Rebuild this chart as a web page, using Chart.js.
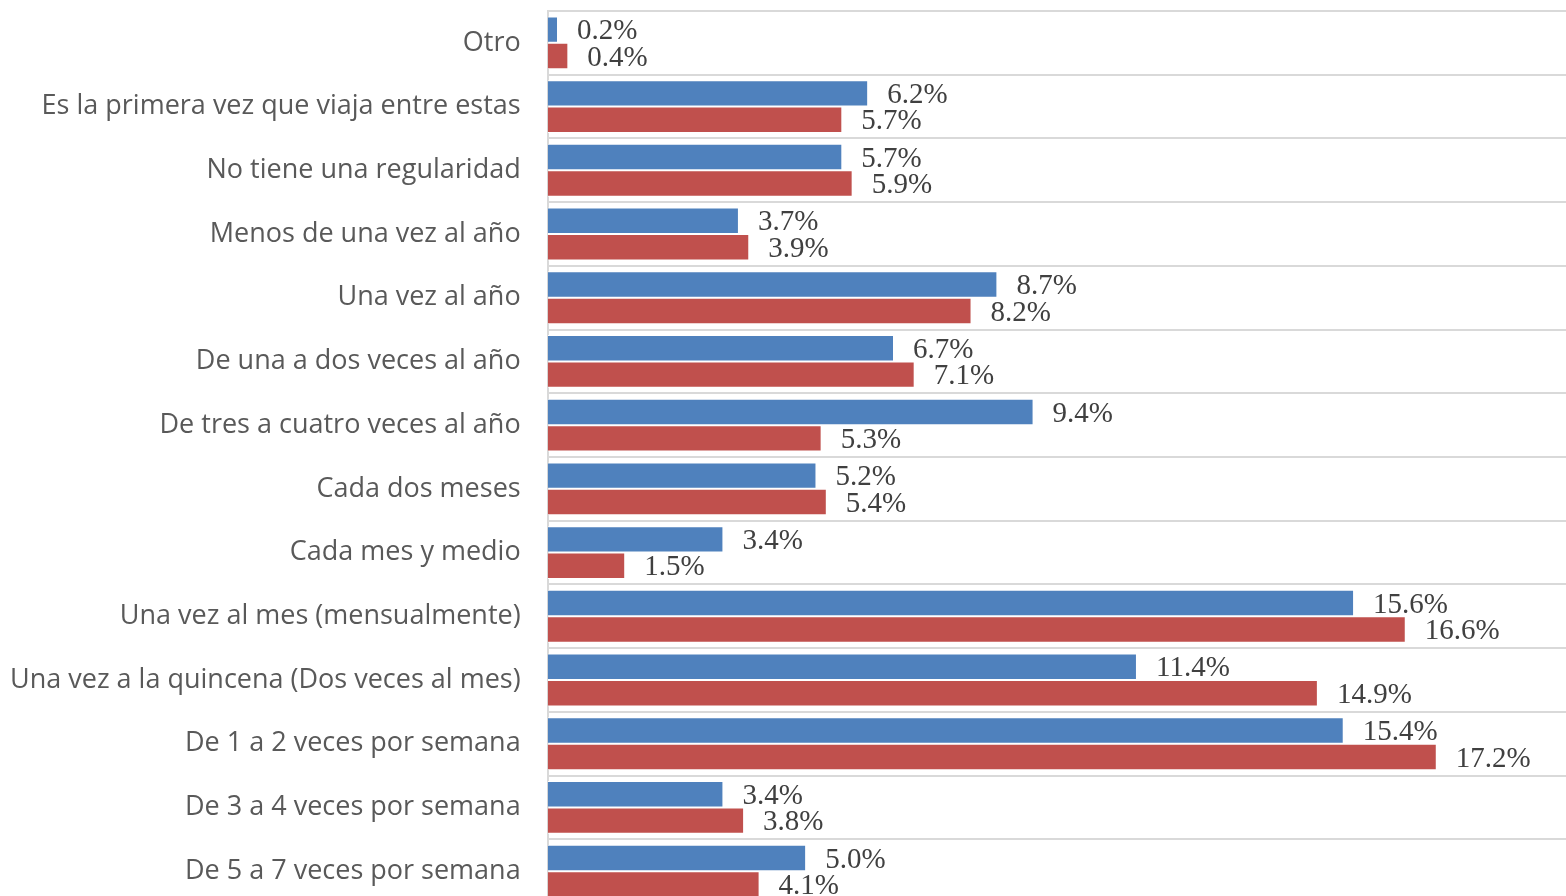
<!DOCTYPE html>
<html>
<head>
<meta charset="utf-8">
<script src="https://cdn.jsdelivr.net/npm/chart.js@4.4.0/dist/chart.umd.min.js"></script>
<style>
  html, body { margin: 0; padding: 0; background: #fff; overflow: hidden; }
  #wrap { position: relative; width: 1566px; height: 906px; }
</style>
</head>
<body>
<div id="wrap"><canvas id="grafico"></canvas></div>
<script>
const categorias = [
  "Otro",
  "Es la primera vez que viaja entre estas",
  "No tiene una regularidad",
  "Menos de una vez al año",
  "Una vez al año",
  "De una a dos veces al año",
  "De tres a cuatro veces al año",
  "Cada dos meses",
  "Cada mes y medio",
  "Una vez al mes (mensualmente)",
  "Una vez a la quincena (Dos veces al mes)",
  "De 1 a 2 veces por semana",
  "De 3 a 4 veces por semana",
  "De 5 a 7 veces por semana",
];

const serieAzul = [0.2, 6.2, 5.7, 3.7, 8.7, 6.7, 9.4, 5.2, 3.4, 15.6, 11.4, 15.4, 3.4, 5.0];
const serieRoja = [0.4, 5.7, 5.9, 3.9, 8.2, 7.1, 5.3, 5.4, 1.5, 16.6, 14.9, 17.2, 3.8, 4.1];

// etiquetas de valor al final de cada barra
const etiquetas = {
  id: "etiquetas",
  afterDatasetsDraw(chart) {
    const ctx = chart.ctx;
    ctx.save();
    ctx.font = "29px 'Liberation Serif'";
    ctx.fillStyle = "#404040";
    ctx.textBaseline = "middle";
    ctx.textAlign = "left";
    chart.data.datasets.forEach((ds, i) => {
      chart.getDatasetMeta(i).data.forEach((bar, j) => {
        ctx.fillText(ds.data[j].toFixed(1) + "%", bar.x + 19, bar.y + 2);
      });
    });
    ctx.restore();
  },
};

new Chart(document.getElementById("grafico"), {
  type: "bar",
  data: {
    labels: categorias,
    datasets: [
      {
        label: "Serie 1",
        data: serieAzul,
        backgroundColor: "#4F81BD",
        borderColor: "#ffffff",
        borderWidth: 1,
        categoryPercentage: 0.83,
        barPercentage: 1,
      },
      {
        label: "Serie 2",
        data: serieRoja,
        backgroundColor: "#C0504D",
        borderColor: "#ffffff",
        borderWidth: 1,
        categoryPercentage: 0.83,
        barPercentage: 1,
      },
    ],
  },
  options: {
    indexAxis: "y",
    responsive: true,
    maintainAspectRatio: false,
    animation: false,
    layout: { padding: { top: 11, bottom: 3, right: 0, left: 10 } },
    plugins: {
      legend: { display: false },
      tooltip: { enabled: false },
    },
    scales: {
      x: {
        display: false,
        min: 0,
        max: 19.7,
      },
      y: {
        grid: {
          color: "#d9d9d9",
          lineWidth: 2,
          drawTicks: true,
          tickLength: 27,
          tickColor: "rgba(0,0,0,0)",
        },
        border: { color: "#d9d9d9", width: 2 },
        ticks: {
          color: "#595959",
          font: { family: "'Open Sans'", size: 27 },
          padding: 0,
        },
        afterFit(scale) {
          scale.paddingTop = 0;
          scale.paddingBottom = 0;
        },
      },
    },
  },
  plugins: [etiquetas],
});
</script>
</body>
</html>
